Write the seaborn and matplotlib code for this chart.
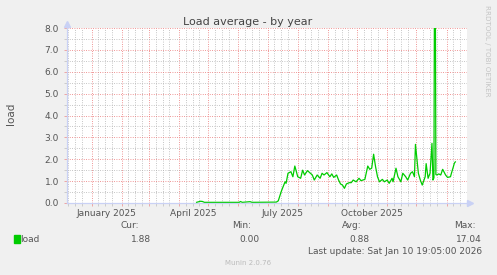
import matplotlib
matplotlib.use("Agg")
import matplotlib.pyplot as plt
from matplotlib.patches import Rectangle
import seaborn as sns
import pandas as pd
import numpy as np

# ---------------- data ----------------
dates = [
    "2025-04-19", "2025-04-23", "2025-04-25", "2025-04-27", "2025-05-20",
    "2025-06-02", "2025-06-03", "2025-06-05", "2025-06-13", "2025-06-15",
    "2025-07-10", "2025-07-12", "2025-07-15", "2025-07-17", "2025-07-19",
    "2025-07-20", "2025-07-22", "2025-07-25", "2025-07-27", "2025-07-29",
    "2025-08-01", "2025-08-04", "2025-08-06", "2025-08-08", "2025-08-11",
    "2025-08-14", "2025-08-16", "2025-08-18", "2025-08-21", "2025-08-24",
    "2025-08-26", "2025-08-28", "2025-08-31", "2025-09-03", "2025-09-05",
    "2025-09-07", "2025-09-10", "2025-09-12", "2025-09-14", "2025-09-16",
    "2025-09-18", "2025-09-20", "2025-09-23", "2025-09-25", "2025-09-27",
    "2025-09-30", "2025-10-03", "2025-10-05", "2025-10-07", "2025-10-09",
    "2025-10-12", "2025-10-14", "2025-10-16", "2025-10-18", "2025-10-20",
    "2025-10-22", "2025-10-24", "2025-10-27", "2025-10-29", "2025-11-01",
    "2025-11-03", "2025-11-06", "2025-11-07", "2025-11-10", "2025-11-12",
    "2025-11-15", "2025-11-17", "2025-11-20", "2025-11-22", "2025-11-25",
    "2025-11-27", "2025-11-29", "2025-11-30", "2025-12-03", "2025-12-05",
    "2025-12-07", "2025-12-10", "2025-12-11", "2025-12-13", "2025-12-15",
    "2025-12-17", "2025-12-18", "2025-12-19", "2025-12-20", "2025-12-21",
    "2025-12-22", "2025-12-24", "2025-12-26", "2025-12-28", "2025-12-31",
    "2026-01-02", "2026-01-05", "2026-01-06", "2026-01-08", "2026-01-09",
    "2026-01-10",
]
load = [
    0.03, 0.08, 0.07, 0.03, 0.03,
    0.03, 0.07, 0.03, 0.06, 0.03,
    0.04, 0.10, 0.52, 0.75, 0.97,
    0.90, 1.36, 1.43, 1.20, 1.69,
    1.20, 1.13, 1.50, 1.28, 1.48,
    1.36, 1.28, 1.05, 1.28, 1.13,
    1.36, 1.28, 1.39, 1.20, 1.33,
    1.17, 1.28, 1.05, 0.87, 0.82,
    0.67, 0.87, 0.93, 0.93, 1.05,
    0.97, 1.13, 1.02, 1.05, 1.08,
    1.69, 1.54, 1.59, 2.23, 1.66,
    1.20, 0.97, 1.08, 0.97, 1.05,
    0.90, 1.13, 0.97, 1.59, 1.20,
    0.97, 1.36, 1.20, 1.05, 1.36,
    1.43, 1.20, 2.68, 1.36, 1.05,
    0.82, 1.20, 1.80, 1.13, 1.36,
    2.73, 1.05, 1.15, 17.04, 1.30,
    1.28, 1.33, 1.28, 1.54, 1.28,
    1.17, 1.20, 1.36, 1.66, 1.82,
    1.88,
]
x_labels = ["January 2025", "April 2025", "July 2025", "October 2025"]
x_label_months = ["2025-01-01", "2025-04-01", "2025-07-01", "2025-10-01"]
y_ticks = [0, 1, 2, 3, 4, 5, 6, 7, 8]
stat_names = ["Cur:", "Min:", "Avg:", "Max:"]
stat_values = ["1.88", "0.00", "0.88", "17.04"]
series_name = "load"
title = "Load average - by year"
last_update = "Last update: Sat Jan 10 19:05:00 2026"
x_start = "2024-12-06 19:05"
x_end = "2026-01-10 19:05"

# ---------------- figure ----------------
W, H = 497, 275
BG = "#F0F0F0"
FONT = "#555555"
AXIS = "#C9D1F5"
LINE = "#00CC00"
MGRID = (0.92, 0.45, 0.45, 0.6)
GRID = (0.70, 0.70, 0.70, 0.6)

plt.rcParams["font.family"] = ["DejaVu Sans"]
fig = plt.figure(figsize=(W / 100, H / 100), dpi=100, facecolor=BG)
L, R, T, B = 67, 467, 28, 203
ax = fig.add_axes([L / W, 1 - B / H, (R - L) / W, (B - T) / H])
ax.set_facecolor("white")

df = pd.DataFrame({"date": pd.to_datetime(dates), "load": load})
sns.lineplot(data=df, x="date", y="load", ax=ax, color=LINE, lw=0.9, zorder=5)

ax.set_xlim(pd.Timestamp(x_start), pd.Timestamp(x_end))
ax.set_ylim(0, 8)
ax.set_xlabel("")
ax.set_ylabel("")

# y grid
ax.set_yticks(y_ticks)
ax.set_yticklabels([f"{v:.1f}" for v in y_ticks])
ax.set_yticks(np.arange(0.5, 8, 1.0), minor=True)

# x grid: months major, weeks within month minor
month_starts = pd.date_range("2025-01-01", "2026-01-01", freq="MS")
ax.set_xticks(month_starts)
ax.set_xticklabels([])
minor = []
for m in pd.date_range("2024-12-01", "2026-01-01", freq="MS"):
    for d in (7, 14, 21):
        minor.append(m + pd.Timedelta(days=d))
ax.set_xticks(minor, minor=True)

dot = (0, (1, 1.8))
ax.grid(which="major", color=MGRID, linestyle=dot, lw=0.6)
ax.grid(which="minor", color=GRID, linestyle=dot, lw=0.6)
ax.set_axisbelow(True)

ax.tick_params(axis="both", which="both", length=2.5, width=0.7)
ax.tick_params(axis="y", which="major", color=MGRID, labelcolor=FONT,
               labelsize=6.5, pad=3.2)
ax.tick_params(axis="y", which="minor", color=GRID)
ax.tick_params(axis="x", which="major", color=MGRID)
ax.tick_params(axis="x", which="minor", color=GRID)

for s in ("top", "right"):
    ax.spines[s].set_visible(False)
for s in ("left", "bottom"):
    ax.spines[s].set_color(AXIS)
    ax.spines[s].set_linewidth(0.9)
    ax.spines[s].set_zorder(6)

# axis arrows
ax.plot([0], [1.025], marker="^", color=AXIS, ms=4, transform=ax.transAxes,
        clip_on=False, zorder=7)
ax.plot([0, 0], [1.0, 1.025], color=AXIS, lw=0.9, transform=ax.transAxes,
        clip_on=False)
ax.plot([1.0, 1.0075], [0, 0], color=AXIS, lw=0.9, transform=ax.transAxes,
        clip_on=False)
ax.plot([1.0075], [0], marker=">", color=AXIS, ms=4, transform=ax.transAxes,
        clip_on=False, zorder=7)

# month labels centred mid-month
for lab, m in zip(x_labels, x_label_months):
    ax.text(pd.Timestamp(m) + pd.Timedelta(days=15), -10 / (B - T), lab,
            transform=ax.get_xaxis_transform(), ha="center", va="center",
            fontsize=6.5, color=FONT)

def ftext(x, y, s, **kw):
    fig.text(x / W, 1 - y / H, s, **kw)

ftext(248, 22, title, ha="center", va="center", fontsize=8, color="#444444")
ftext(11, 114, series_name, ha="center", va="center", rotation=90,
      fontsize=7.5, color=FONT)
ftext(487, 51, "RRDTOOL / TOBI OETIKER", ha="center", va="center",
      rotation=270, fontsize=5.1, color="#C4C4C4")

# legend block
fig.patches.append(Rectangle((14 / W, 1 - 243 / H), 6 / W, 8 / H,
                             transform=fig.transFigure, color=LINE))
ftext(20.5, 239, series_name, ha="left", va="center", fontsize=6.5, color=FONT)
for name, val, xn, xv in zip(stat_names, stat_values,
                             [139, 251, 362, 476], [151, 260, 370, 482]):
    ftext(xn, 226, name, ha="right", va="center", fontsize=6.5, color=FONT)
    ftext(xv, 239, val, ha="right", va="center", fontsize=6.5, color=FONT)
ftext(482, 252, last_update, ha="right", va="center", fontsize=6.5, color=FONT)
ftext(248, 263, "Munin 2.0.76", ha="center", va="center", fontsize=5,
      color="#BBBBBB")

fig.savefig("out.png", dpi=100, facecolor=BG)
